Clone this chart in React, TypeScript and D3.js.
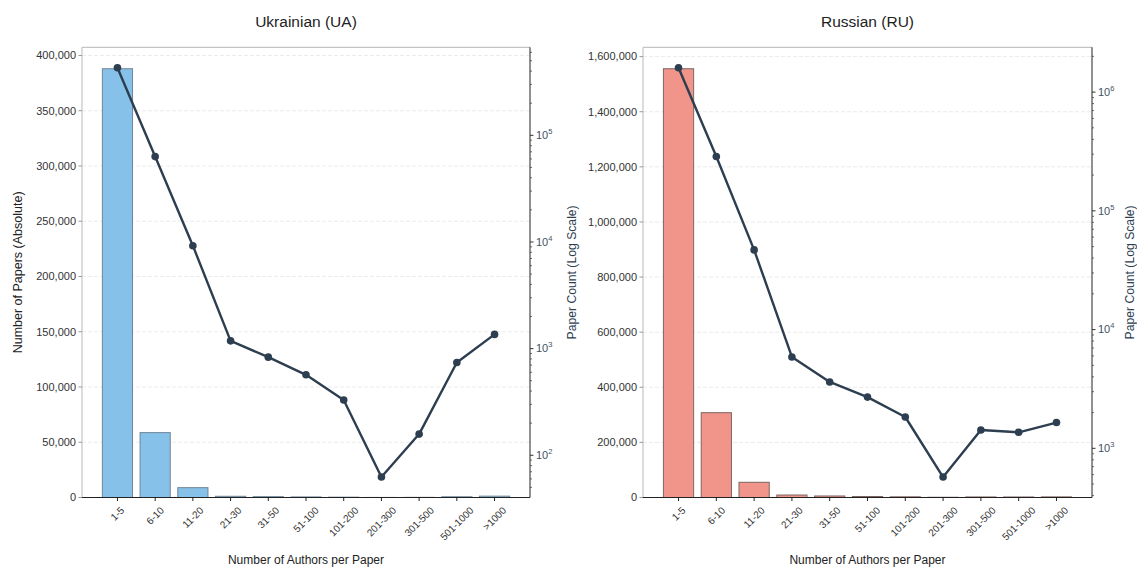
import React from 'react';
import * as d3 from 'd3';

const categories = ['1-5', '6-10', '11-20', '21-30', '31-50', '51-100', '101-200', '201-300', '301-500', '501-1000', '>1000'];

const uaBarValues = [388000, 58700, 8900, 1100, 750, 510, 300, 56, 140, 670, 1220];
const uaLineValues = [430000, 63200, 9230, 1183, 832, 568, 330, 62.5, 158, 741, 1359];

const ruBarValues = [1556000, 307800, 55200, 9000, 5500, 3600, 2500, 850, 2000, 1900, 2250];
const ruLineValues = [1603000, 287000, 46900, 5880, 3620, 2700, 1836, 573, 1426, 1364, 1648];

const FONT = '"Liberation Sans", Arial, sans-serif';
const LINE_COLOR = '#2C3E50';

let ctx: CanvasRenderingContext2D | null = null;
function textWidth(s: string, size: number) {
  if (!ctx) ctx = document.createElement('canvas').getContext('2d');
  if (!ctx) return s.length * size * 0.55;
  ctx.font = `${size}px "Liberation Sans"`;
  return ctx.measureText(s).width;
}

type PanelProps = {
  left: number; right: number; top: number; bottom: number;
  title: string; bars: number[]; line: number[];
  fill: string; stroke: string; yLabel?: string; rightLabelX: number;
};

function Panel({ left, right, top, bottom, title, bars, line, fill, stroke, yLabel, rightLabelX }: PanelProps) {
  const x = d3.scaleLinear().domain([-0.94, categories.length - 1 + 0.94]).range([left, right]);
  const barMax = (d3.max(bars) as number) * 1.05;
  const y = d3.scaleLinear().domain([0, barMax]).range([bottom, top]);
  const lmin = Math.log10(d3.min(line) as number);
  const lmax = Math.log10(d3.max(line) as number);
  const m = (lmax - lmin) * 0.05;
  const yl = d3.scaleLog().domain([Math.pow(10, lmin - m), Math.pow(10, lmax + m)]).range([bottom, top]);
  const yTicks = y.ticks(10);
  const logTicks = yl.ticks().filter(t => t >= yl.domain()[0] && t <= yl.domain()[1]);
  const isMajor = (t: number) => Math.abs(Math.log10(t) - Math.round(Math.log10(t))) < 1e-9;
  const bw = (x(0.8) - x(0));
  const lineGen = d3.line<number>().x((_, i) => x(i)).y(d => yl(d));
  const cx = (left + right) / 2;
  const cy = (top + bottom) / 2;
  const xFont = 10;

  return (
    <g>
      <text x={cx} y={27} textAnchor="middle" fontSize={15.5} fill="#222" fontFamily={FONT}>{title}</text>
      {yTicks.map(t => (
        <line key={'g' + t} x1={left} x2={right} y1={y(t)} y2={y(t)} stroke="#e6e6e6" strokeWidth={0.8} strokeDasharray="4,2" />
      ))}
      {bars.map((v, i) => (
        <rect key={'b' + i} x={x(i) - bw / 2} y={y(v)} width={bw} height={bottom - y(v)} fill={fill} stroke={stroke} strokeWidth={1} />
      ))}
      <path d={lineGen(line) || ''} fill="none" stroke={LINE_COLOR} strokeWidth={2.4} strokeLinejoin="round" />
      {line.map((v, i) => (
        <circle key={'p' + i} cx={x(i)} cy={yl(v)} r={3.8} fill={LINE_COLOR} />
      ))}
      <line x1={left} x2={right} y1={top} y2={top} stroke="#c4c4c4" strokeWidth={1.2} />
      <line x1={left} x2={left} y1={top} y2={bottom} stroke="#c4c4c4" strokeWidth={1.2} />
      <line x1={right} x2={right} y1={top} y2={bottom} stroke="#222" strokeWidth={1} />
      <line x1={left} x2={right} y1={bottom} y2={bottom} stroke="#222" strokeWidth={1.2} />
      {yTicks.map(t => (
        <g key={'yt' + t}>
          <line x1={left - 3.5} x2={left} y1={y(t)} y2={y(t)} stroke="#999" strokeWidth={1} />
          <text x={left - 6} y={y(t)} dy="0.35em" textAnchor="end" fontSize={11} fill="#333" fontFamily={FONT}>{d3.format(',')(t)}</text>
        </g>
      ))}
      {logTicks.map(t => {
        const major = isMajor(t);
        const e = Math.round(Math.log10(t));
        return (
          <g key={'lt' + t}>
            <line x1={right} x2={right + (major ? 3.5 : 2)} y1={yl(t)} y2={yl(t)} stroke="#333" strokeWidth={major ? 1 : 0.7} />
            {major && (
              <text x={right + 6} y={yl(t)} dy="0.35em" fontSize={11} fill="#3f5163" fontFamily={FONT}>
                10<tspan dy={-5} fontSize={7.5}>{e}</tspan>
              </text>
            )}
          </g>
        );
      })}
      {categories.map((c, i) => {
        const w = textWidth(c, xFont);
        const h = xFont * 1.15;
        const bh = (w + h) * Math.SQRT1_2;
        return (
          <g key={'xt' + i}>
            <line x1={x(i)} x2={x(i)} y1={bottom} y2={bottom + 3.5} stroke="#222" strokeWidth={1} />
            <text transform={`translate(${x(i)},${bottom + 7 + bh / 2}) rotate(-45)`} textAnchor="middle" dominantBaseline="central" fontSize={xFont} fill="#333" fontFamily={FONT}>{c}</text>
          </g>
        );
      })}
      <text x={cx} y={564} textAnchor="middle" fontSize={12} fill="#222" fontFamily={FONT}>Number of Authors per Paper</text>
      {yLabel && (
        <text transform={`translate(18,${cy}) rotate(-90)`} textAnchor="middle" dominantBaseline="central" fontSize={12.5} fill="#222" fontFamily={FONT}>{yLabel}</text>
      )}
      <text transform={`translate(${rightLabelX},${cy}) rotate(-90)`} textAnchor="middle" dominantBaseline="central" fontSize={12.2} fill={LINE_COLOR} fontFamily={FONT}>Paper Count (Log Scale)</text>
    </g>
  );
}

export default function App() {
  return (
    <svg width={1137} height={568} style={{ position: 'absolute', left: 0, top: 0, background: '#fff' }} fontFamily={FONT}>
      <rect width={1137} height={568} fill="#fff" />
      <Panel left={82} right={530} top={47.3} bottom={497.5} title="Ukrainian (UA)" bars={uaBarValues} line={uaLineValues}
        fill="#85C1E9" stroke="#6e8597" yLabel="Number of Papers (Absolute)" rightLabelX={572} />
      <Panel left={643} right={1092} top={47.3} bottom={497.5} title="Russian (RU)" bars={ruBarValues} line={ruLineValues}
        fill="#F1948A" stroke="#7d6662" rightLabelX={1130} />
    </svg>
  );
}
